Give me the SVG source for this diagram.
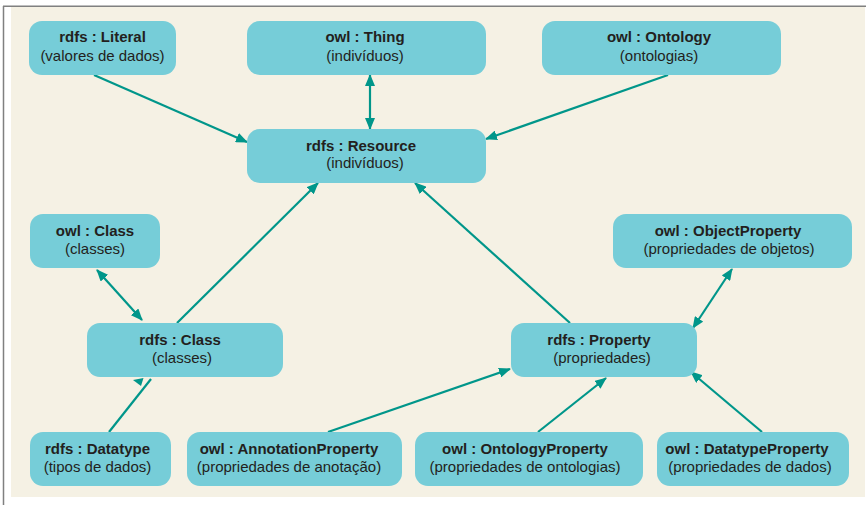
<svg xmlns="http://www.w3.org/2000/svg" width="866" height="505" viewBox="0 0 866 505">
<style>
.box{fill:#76cdd8}
.t1{font-family:"Liberation Sans",Arial,sans-serif;font-size:15px;font-weight:bold;fill:#231f20;text-anchor:middle}
.t2{font-family:"Liberation Sans",Arial,sans-serif;font-size:15px;fill:#231f20;text-anchor:middle}
.c{stroke:#00968a;stroke-width:2.2;fill:none}
</style>
<defs>
<marker id="ah" viewBox="0 0 12 10" refX="11" refY="5" markerWidth="12" markerHeight="10" markerUnits="userSpaceOnUse" orient="auto-start-reverse">
<path d="M0,0 L12,5 L0,10 Z" fill="#00968a"/>
</marker>
</defs>
<rect x="0" y="0" width="866" height="505" fill="#ffffff"/>
<rect x="11" y="7" width="854" height="490" fill="#f5f1e4"/>
<line x1="3.5" y1="6" x2="3.5" y2="505" stroke="#808080" stroke-width="1.5"/>
<line x1="3" y1="6.3" x2="866" y2="6.3" stroke="#808080" stroke-width="1.5"/>

<g id="connectors">
<line class="c" x1="94" y1="75" x2="247" y2="142" marker-end="url(#ah)"/>
<line class="c" x1="370" y1="75" x2="370" y2="129" marker-start="url(#ah)" marker-end="url(#ah)"/>
<line class="c" x1="668" y1="75" x2="486" y2="139" marker-end="url(#ah)"/>
<line class="c" x1="177" y1="323" x2="318" y2="183" marker-end="url(#ah)"/>
<line class="c" x1="570" y1="323" x2="415" y2="183" marker-end="url(#ah)"/>
<line class="c" x1="97" y1="270" x2="142" y2="320" marker-start="url(#ah)" marker-end="url(#ah)"/>
<line class="c" x1="109" y1="432" x2="151" y2="379"/>
<polygon points="133,380 143.5,378 141,386" fill="#00968a"/>
<line class="c" x1="732" y1="269" x2="693" y2="328" marker-start="url(#ah)" marker-end="url(#ah)"/>
<line class="c" x1="328" y1="432" x2="510" y2="369" marker-end="url(#ah)"/>
<line class="c" x1="538" y1="432" x2="606" y2="378" marker-end="url(#ah)"/>
<line class="c" x1="762" y1="432" x2="691" y2="372" marker-end="url(#ah)"/>
</g>

<g id="rdfs-literal">
<rect class="box" x="29" y="21" width="147" height="54" rx="13"/>
<text class="t1" x="102.5" y="42">rdfs : Literal</text>
<text class="t2" x="102.5" y="61">(valores de dados)</text>
</g>
<g id="owl-thing">
<rect class="box" x="247" y="21" width="239" height="54" rx="13"/>
<text class="t1" x="365" y="42">owl : Thing</text>
<text class="t2" x="365" y="61">(indivíduos)</text>
</g>
<g id="owl-ontology">
<rect class="box" x="542" y="21" width="239" height="54" rx="13"/>
<text class="t1" x="659" y="42">owl : Ontology</text>
<text class="t2" x="659" y="61">(ontologias)</text>
</g>
<g id="rdfs-resource">
<rect class="box" x="247" y="129" width="239" height="54" rx="13"/>
<text class="t1" x="361" y="151">rdfs : Resource</text>
<text class="t2" x="365" y="168">(indivíduos)</text>
</g>
<g id="owl-class">
<rect class="box" x="30" y="214" width="130" height="54" rx="13"/>
<text class="t1" x="95" y="236">owl : Class</text>
<text class="t2" x="95" y="254">(classes)</text>
</g>
<g id="rdfs-class">
<rect class="box" x="87" y="323" width="196" height="54" rx="13"/>
<text class="t1" x="180" y="345">rdfs : Class</text>
<text class="t2" x="182" y="363">(classes)</text>
</g>
<g id="rdfs-datatype">
<rect class="box" x="30" y="432" width="141" height="54" rx="13"/>
<text class="t1" x="97.5" y="454">rdfs : Datatype</text>
<text class="t2" x="97.5" y="472">(tipos de dados)</text>
</g>
<g id="owl-annotationproperty">
<rect class="box" x="187" y="432" width="215" height="54" rx="13"/>
<text class="t1" x="289" y="454">owl : AnnotationProperty</text>
<text class="t2" x="289" y="472">(propriedades de anotação)</text>
</g>
<g id="owl-ontologyproperty">
<rect class="box" x="415" y="432" width="228" height="54" rx="13"/>
<text class="t1" x="525" y="454">owl : OntologyProperty</text>
<text class="t2" x="525" y="472">(propriedades de ontologias)</text>
</g>
<g id="rdfs-property">
<rect class="box" x="511" y="323" width="186" height="54" rx="13"/>
<text class="t1" x="599" y="345">rdfs : Property</text>
<text class="t2" x="602" y="363">(propriedades)</text>
</g>
<g id="owl-objectproperty">
<rect class="box" x="613" y="214" width="239" height="54" rx="13"/>
<text class="t1" x="728" y="236">owl : ObjectProperty</text>
<text class="t2" x="729" y="254">(propriedades de objetos)</text>
</g>
<g id="owl-datatypeproperty">
<rect class="box" x="657" y="432" width="192" height="54" rx="13"/>
<text class="t1" x="747" y="454">owl : DatatypeProperty</text>
<text class="t2" x="750" y="472">(propriedades de dados)</text>
</g>
</svg>
